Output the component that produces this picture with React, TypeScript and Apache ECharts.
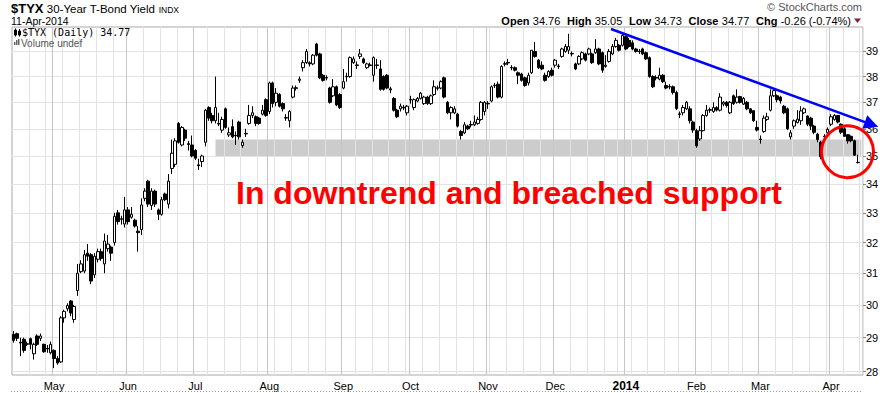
import React, { useEffect, useRef } from 'react';
import * as echarts from 'echarts';

const FONT = 'Arial, "Liberation Sans", Helvetica, sans-serif';

// ---- calendar ----
const FIRST_DAY = '2013-04-15';
const LAST_DAY = '2014-04-11';
const PAD_DAY = '2014-04-14';
const HOLIDAYS = ['2013-05-27', '2013-07-04', '2013-09-02', '2013-11-28', '2013-12-25', '2014-01-01', '2014-01-20', '2014-02-17'];
const MONTHS = ['Jan', 'Feb', 'Mar', 'Apr', 'May', 'Jun', 'Jul', 'Aug', 'Sep', 'Oct', 'Nov', 'Dec'];

// ---- y axis ----
const Y_TICKS = [28, 29, 30, 31, 32, 33, 34, 35, 36, 37, 38, 39];
const Y_MIN = 27.9;
const Y_MAX = 40;

// ---- support band ----
const SUPPORT_START = '2013-07-10';
const SUPPORT_LOW = 35.0;
const SUPPORT_HIGH = 35.6;

// ---- OHLC data: [open, close, low, high] ----
const apr2013 = [
  [29.10, 28.92, 28.85, 29.20], [29.12, 28.98, 28.90, 29.15], [28.86, 28.84, 28.45, 29.00], [28.95, 28.62, 28.55, 29.00],
  [28.80, 28.82, 28.75, 28.88], [28.97, 28.80, 28.65, 29.00], [28.52, 28.80, 28.35, 28.85], [29.05, 28.80, 28.75, 29.10],
  [28.98, 29.05, 28.90, 29.12], [28.80, 28.58, 28.55, 28.82], [28.68, 28.66, 28.55, 28.78], [28.55, 28.80, 28.50, 28.88],
];
const may2013 = [
  [28.62, 28.38, 28.10, 28.65], [28.38, 28.25, 28.20, 28.45], [28.28, 29.60, 28.25, 29.65], [29.60, 29.80, 29.45, 29.85],
  [29.88, 29.98, 29.80, 30.05], [30.12, 29.75, 29.65, 30.15], [29.55, 29.95, 29.45, 30.00], [30.45, 31.00, 30.28, 31.30],
  [31.05, 31.30, 31.00, 31.42], [31.07, 31.60, 31.00, 31.75], [31.65, 31.55, 31.40, 31.95], [31.60, 30.75, 30.65, 31.65],
  [30.95, 31.55, 30.85, 31.65], [31.45, 31.70, 31.35, 31.80], [31.70, 31.48, 31.40, 31.80], [31.30, 32.05, 31.00, 32.30],
  [31.80, 31.95, 31.70, 32.25], [31.85, 31.65, 31.40, 31.90], [32.00, 32.88, 31.90, 33.00], [33.00, 32.70, 32.60, 33.10],
  [32.80, 32.78, 32.60, 32.90], [32.62, 33.10, 32.50, 33.55],
];
const jun2013 = [
  [33.10, 32.70, 32.60, 33.20], [32.85, 32.95, 32.80, 33.20], [32.75, 32.55, 32.50, 32.80], [32.38, 32.33, 31.70, 32.55],
  [32.43, 33.27, 32.25, 33.50], [33.50, 33.75, 33.40, 33.85], [34.10, 33.30, 33.20, 34.15], [33.25, 33.75, 33.10, 33.85],
  [33.75, 33.30, 33.20, 33.80], [33.10, 32.95, 32.75, 33.15], [32.95, 33.45, 32.90, 33.55], [33.65, 33.45, 33.40, 33.70],
  [33.30, 34.10, 33.15, 34.35], [34.55, 35.10, 34.35, 35.60], [34.70, 35.55, 34.60, 35.65], [36.20, 35.50, 35.45, 36.25],
  [35.40, 36.05, 35.35, 36.10], [35.95, 35.65, 35.55, 36.00], [35.45, 35.42, 35.20, 35.55], [35.40, 35.00, 34.95, 35.75],
];
const jul2013 = [
  [35.20, 34.92, 34.85, 35.25], [34.68, 34.65, 34.50, 34.90], [34.80, 35.00, 34.60, 35.05], [35.50, 36.70, 35.35, 36.75],
  [36.80, 36.40, 36.30, 36.85], [36.50, 36.30, 36.20, 36.60], [36.30, 36.80, 36.20, 38.00], [36.20, 36.18, 36.10, 36.60],
  [35.95, 36.35, 35.85, 36.45], [36.75, 36.05, 36.00, 36.80], [35.77, 35.85, 35.70, 36.05], [36.08, 35.70, 35.65, 36.35],
  [35.76, 35.74, 35.40, 35.90], [36.25, 35.70, 35.60, 36.30], [35.38, 35.50, 35.30, 35.60], [35.83, 35.81, 35.70, 36.00],
  [36.20, 36.50, 36.15, 36.90], [36.50, 36.60, 36.40, 36.85], [36.45, 36.20, 36.10, 36.50], [36.40, 36.20, 36.15, 36.45],
  [36.55, 36.70, 36.50, 36.90], [37.10, 36.50, 36.45, 37.15],
];
const aug2013 = [
  [36.65, 37.75, 36.55, 37.80], [37.75, 36.95, 36.80, 37.80], [37.00, 37.35, 36.85, 37.55], [37.30, 36.85, 36.80, 37.35],
  [36.95, 36.75, 36.65, 37.00], [36.42, 36.40, 36.30, 36.55], [36.30, 36.65, 36.05, 36.70], [37.20, 37.55, 37.15, 37.65],
  [37.56, 37.54, 37.45, 37.65], [37.85, 37.90, 37.75, 38.00], [38.35, 38.55, 38.20, 38.65], [38.55, 39.00, 38.50, 39.10],
  [38.55, 38.50, 38.40, 38.60], [38.50, 38.85, 38.45, 38.90], [39.30, 38.85, 38.80, 39.35], [38.90, 37.95, 37.90, 38.95],
  [38.05, 37.85, 37.80, 38.10], [37.96, 37.94, 37.85, 38.05], [37.55, 37.00, 36.95, 37.60], [37.25, 37.60, 37.20, 37.90],
  [37.60, 36.90, 36.85, 37.65], [37.30, 36.80, 36.75, 37.35],
];
const sep2013 = [
  [37.55, 37.80, 37.50, 38.30], [38.01, 37.99, 37.80, 38.15], [38.00, 38.75, 37.95, 38.80], [38.55, 38.70, 38.50, 38.80],
  [38.46, 38.44, 38.30, 38.60], [38.80, 38.90, 38.70, 39.10], [38.70, 38.55, 38.50, 38.75], [38.35, 38.50, 38.30, 38.55],
  [38.46, 38.44, 38.40, 38.55], [38.05, 38.75, 37.80, 38.80], [38.46, 38.44, 38.30, 38.70], [38.30, 37.50, 37.45, 38.65],
  [38.00, 37.50, 37.45, 38.05], [38.05, 37.55, 37.50, 38.10], [37.52, 37.48, 37.35, 37.60], [37.15, 36.70, 36.65, 37.20],
  [36.70, 36.45, 36.40, 36.75], [36.75, 36.85, 36.65, 36.95], [36.81, 36.79, 36.70, 36.90], [36.60, 36.85, 36.50, 36.90],
];
const oct2013 = [
  [37.11, 37.09, 36.95, 37.25], [36.80, 37.10, 36.70, 37.15], [37.05, 37.15, 37.00, 37.20], [37.15, 37.35, 37.10, 37.40],
  [36.95, 37.20, 36.90, 37.25], [37.20, 36.95, 36.90, 37.25], [36.95, 37.25, 36.90, 37.30], [37.30, 37.60, 37.25, 37.85],
  [37.56, 37.54, 37.45, 37.65], [37.55, 37.80, 37.50, 37.85], [37.95, 37.20, 37.15, 38.00], [37.00, 36.60, 36.55, 37.05],
  [36.60, 36.80, 36.35, 36.85], [36.60, 36.75, 36.55, 36.85], [36.55, 36.10, 36.05, 36.60], [35.90, 35.75, 35.60, 35.95],
  [35.85, 36.15, 35.80, 36.25], [36.10, 36.00, 35.95, 36.15], [36.16, 36.14, 36.05, 36.30], [36.15, 36.25, 36.10, 36.50],
  [36.20, 36.35, 36.15, 36.45], [36.35, 37.00, 36.30, 37.05], [36.65, 37.00, 36.50, 37.05],
];
const nov2013 = [
  [36.96, 36.94, 36.75, 37.05], [37.05, 37.60, 37.00, 37.65], [37.66, 37.64, 37.55, 37.75], [37.70, 37.20, 37.15, 37.80],
  [37.20, 38.40, 37.15, 38.45], [38.51, 38.49, 38.40, 38.60], [38.56, 38.54, 38.45, 38.70], [38.36, 38.34, 38.25, 38.45],
  [38.35, 38.25, 38.20, 38.40], [38.15, 38.05, 37.70, 38.20], [38.10, 37.85, 37.80, 38.15], [37.95, 37.65, 37.60, 38.00],
  [37.75, 38.05, 37.65, 38.15], [38.15, 39.05, 38.10, 39.05], [39.00, 38.80, 38.75, 39.38], [38.65, 38.35, 38.30, 38.70],
  [38.45, 38.30, 38.25, 38.60], [38.05, 37.85, 37.80, 38.15], [38.00, 38.20, 37.95, 38.25], [38.25, 38.05, 38.00, 38.35],
];
const dec2013 = [
  [38.45, 38.65, 38.35, 38.70], [38.42, 38.40, 38.30, 38.50], [38.80, 39.10, 38.75, 39.15], [39.00, 39.20, 38.95, 39.30],
  [39.05, 39.20, 38.90, 39.72], [38.92, 38.90, 38.80, 39.00], [38.50, 38.30, 38.25, 38.55], [38.50, 38.80, 38.45, 38.85],
  [38.70, 38.95, 38.65, 39.00], [38.90, 38.65, 38.60, 38.95], [38.90, 39.10, 38.85, 39.15], [38.90, 38.55, 38.50, 38.95],
  [38.95, 39.10, 38.90, 39.50], [39.10, 38.50, 38.45, 39.15], [38.95, 38.25, 38.15, 39.00], [38.40, 38.45, 38.35, 38.85],
  [38.60, 39.00, 38.55, 39.10], [38.90, 39.20, 38.85, 39.30], [39.20, 39.45, 39.15, 39.55], [39.25, 39.05, 39.00, 39.30],
  [39.25, 39.65, 39.20, 39.75],
];
const jan2014 = [
  [39.60, 39.10, 39.05, 39.65], [39.45, 39.20, 39.15, 39.55], [39.35, 39.10, 39.05, 39.45], [39.10, 39.00, 38.95, 39.15],
  [39.01, 38.99, 38.90, 39.10], [39.10, 38.90, 38.85, 39.15], [38.95, 38.70, 38.65, 39.00], [38.75, 38.00, 37.95, 38.80],
  [38.00, 37.60, 37.55, 38.05], [37.96, 37.94, 37.85, 38.05], [37.90, 38.05, 37.85, 38.35], [38.05, 37.80, 37.75, 38.10],
  [37.65, 37.55, 37.50, 37.80], [37.61, 37.59, 37.50, 37.70], [37.60, 37.38, 37.30, 37.65], [37.38, 36.76, 36.70, 37.45],
  [36.56, 36.54, 36.40, 36.65], [36.60, 36.80, 36.50, 36.90], [36.75, 37.00, 36.70, 37.05], [36.75, 36.30, 36.20, 36.85],
  [36.25, 35.95, 35.85, 36.30],
];
const feb2014 = [
  [35.93, 35.37, 35.30, 36.00], [35.62, 35.93, 35.55, 36.10], [35.93, 36.50, 35.90, 36.55], [36.50, 36.70, 36.45, 36.90],
  [36.72, 36.70, 36.60, 36.80], [36.65, 36.80, 36.60, 37.00], [36.80, 36.70, 36.65, 36.85], [36.70, 37.20, 36.65, 37.35],
  [36.93, 37.00, 36.85, 37.05], [37.00, 36.88, 36.80, 37.05], [36.60, 37.00, 36.55, 37.05], [37.25, 36.95, 36.90, 37.30],
  [37.00, 37.20, 36.95, 37.50], [37.22, 37.00, 36.95, 37.25], [36.93, 37.15, 36.90, 37.20], [37.00, 36.75, 36.70, 37.05],
  [36.75, 36.60, 36.55, 36.78], [36.68, 36.30, 36.25, 36.70], [36.05, 35.95, 35.90, 36.30],
];
const mar2014 = [
  [35.62, 35.60, 35.45, 35.75], [35.90, 36.40, 35.85, 36.50], [36.35, 36.45, 36.30, 36.60], [36.70, 37.25, 36.65, 37.50],
  [37.25, 37.45, 37.20, 37.50], [37.25, 37.10, 37.00, 37.30], [37.20, 37.05, 36.95, 37.25], [36.85, 36.60, 36.55, 36.90],
  [36.75, 36.00, 35.95, 36.80], [35.70, 35.85, 35.60, 35.95], [36.10, 36.30, 36.00, 36.35], [36.23, 36.36, 36.20, 36.70],
  [36.30, 36.67, 36.15, 36.85], [36.60, 36.75, 36.55, 36.80], [36.48, 36.17, 36.10, 36.50], [36.40, 36.10, 35.95, 36.45],
  [36.10, 35.87, 35.80, 36.15], [35.80, 35.60, 35.50, 35.85], [35.50, 34.98, 34.88, 35.55], [35.72, 35.70, 35.60, 35.80],
  [35.85, 35.98, 35.80, 36.05],
];
const apr2014 = [
  [36.17, 36.45, 36.10, 36.55], [36.35, 36.50, 36.30, 36.55], [36.50, 36.25, 36.20, 36.52], [36.17, 35.87, 35.80, 36.20],
  [36.00, 35.72, 35.70, 36.05], [35.78, 35.55, 35.45, 35.80], [35.72, 35.56, 35.50, 35.75], [35.56, 35.03, 35.00, 35.60],
  [34.76, 34.77, 34.73, 35.05],
];

// ---- header texts ----
const SYMBOL = '$TYX';
const TITLE = '30-Year T-Bond Yield';
const EXCHANGE = 'INDX';
const DATE_TEXT = '11-Apr-2014';
const LEGEND_TEXT = '$TYX (Daily) 34.77';
const VOLUME_TEXT = 'Volume undef';
const COPYRIGHT = '\u00A9 StockCharts.com';
const QUOTE = [
  ['Open', '34.76'], ['High', '35.05'], ['Low', '34.73'], ['Close', '34.77'], ['Chg', '-0.26 (-0.74%)'],
];
const ANNOTATION = 'In downtrend and breached support';

function buildTradingDays(): string[] {
  const out: string[] = [];
  const [y0, m0, d0] = FIRST_DAY.split('-').map(Number);
  const [y1, m1, d1] = LAST_DAY.split('-').map(Number);
  let t = Date.UTC(y0, m0 - 1, d0);
  const end = Date.UTC(y1, m1 - 1, d1);
  while (t <= end) {
    const d = new Date(t);
    const wd = d.getUTCDay();
    const s = d.toISOString().slice(0, 10);
    if (wd !== 0 && wd !== 6 && HOLIDAYS.indexOf(s) < 0) out.push(s);
    t += 86400000;
  }
  return out;
}

function dayOfWeek(s: string) {
  const [y, m, d] = s.split('-').map(Number);
  return new Date(Date.UTC(y, m - 1, d)).getUTCDay();
}

export default function App() {
  const ref = useRef<HTMLDivElement>(null);
  useEffect(() => {
    document.body.style.margin = '0';
    const dates = buildTradingDays();
    const categories = [...dates, PAD_DAY];
    const ohlc = [
      ...apr2013, ...may2013, ...jun2013, ...jul2013, ...aug2013, ...sep2013,
      ...oct2013, ...nov2013, ...dec2013, ...jan2014, ...feb2014, ...mar2014, ...apr2014,
    ];
    const monthStart = categories.map((d, i) => i > 0 && i < dates.length && d.slice(5, 7) !== categories[i - 1].slice(5, 7));
    const weekStart = categories.map((d, i) => i > 0 && !monthStart[i] && dayOfWeek(d) < dayOfWeek(categories[i - 1]));

    const quoteText = QUOTE.map(([k, v]) => `{b|${k}} {n|${v}}`).join('  ');

    const chart = echarts.init(ref.current!, null, { renderer: 'svg' });
    chart.setOption({
      animation: false,
      textStyle: { fontFamily: FONT },
      grid: { left: 12, right: 30, top: 27, bottom: 18, show: true, borderColor: '#a9a9a9', borderWidth: 1, containLabel: false },
      xAxis: [
        {
          type: 'category', data: categories, boundaryGap: true, z: 1.5,
          axisLine: { show: false }, axisTick: { show: false },
          axisLabel: {
            interval: (i: number) => monthStart[i],
            formatter: (v: string) => {
              const m = Number(v.slice(5, 7));
              return m === 1 ? `{b|${v.slice(0, 4)}}` : MONTHS[m - 1];
            },
            color: '#000', fontSize: 11, margin: 5, fontFamily: FONT,
            rich: { b: { fontWeight: 'bold', fontSize: 12, color: '#000', fontFamily: FONT } },
          },
          splitLine: { show: true, interval: (i: number) => monthStart[i], lineStyle: { color: '#c6c6c6', width: 1 } },
        },
        {
          type: 'category', data: categories, boundaryGap: true, position: 'bottom', z: 1.5,
          axisLine: { show: false }, axisTick: { show: false }, axisLabel: { show: false },
          splitLine: { show: true, interval: (i: number) => weekStart[i], lineStyle: { color: '#e3e3e3', width: 1 } },
        },
      ],
      yAxis: {
        type: 'log', logBase: 10, min: Y_MIN, max: Y_MAX, position: 'right', z: 1.5,
        axisLine: { show: false },
        axisTick: { show: true, length: 3, customValues: Y_TICKS, lineStyle: { color: '#888' } },
        axisLabel: { customValues: Y_TICKS, color: '#000', fontSize: 11, margin: 3, fontFamily: FONT, formatter: (v: number) => String(Math.round(v)) },
        splitLine: { show: true, lineStyle: { color: '#e3e3e3', width: 1 } },
      },
      series: [
        {
          type: 'candlestick', data: ohlc, barWidth: 3, z: 2,
          itemStyle: { color: '#ffffff', color0: '#000000', borderColor: '#000000', borderColor0: '#000000', borderWidth: 1 },
          markArea: {
            silent: true, z: 1,
            itemStyle: { color: '#cccccc', opacity: 1 },
            data: [[{ xAxis: SUPPORT_START, yAxis: SUPPORT_LOW }, { xAxis: PAD_DAY, yAxis: SUPPORT_HIGH }]],
          },
        },
      ],
      graphic: [
        {
          type: 'text', x: 11, y: 8, z: 100,
          style: {
            text: `{t|${SYMBOL}} {n|${TITLE}} {s|${EXCHANGE}}`, verticalAlign: 'middle',
            rich: {
              t: { fontSize: 13, fontWeight: 'bold', fontFamily: FONT, fill: '#000', verticalAlign: 'bottom' },
              n: { fontSize: 11.5, fontFamily: FONT, fill: '#000', verticalAlign: 'bottom' },
              s: { fontSize: 8.5, fontFamily: FONT, fill: '#000', verticalAlign: 'bottom' },
            },
          },
        },
        { type: 'text', x: 11, y: 21, z: 100, style: { text: DATE_TEXT, fontSize: 10.5, fontFamily: FONT, fill: '#000', verticalAlign: 'middle' } },
        { type: 'text', x: 862, y: 7, z: 100, style: { text: COPYRIGHT, fontSize: 11, fontFamily: FONT, fill: '#555', align: 'right', verticalAlign: 'middle' } },
        {
          type: 'text', x: 851, y: 20.5, z: 100,
          style: {
            text: quoteText, align: 'right', verticalAlign: 'middle',
            rich: {
              b: { fontSize: 11, fontWeight: 'bold', fontFamily: FONT, fill: '#000' },
              n: { fontSize: 11, fontFamily: FONT, fill: '#000' },
            },
          },
        },
        { type: 'polygon', z: 100, shape: { points: [[854, 18.5], [861, 18.5], [857.5, 23]] }, style: { fill: '#8b1c3c' } },
        // legend icons
        { type: 'rect', z: 100, shape: { x: 14.5, y: 30, width: 2, height: 5 }, style: { fill: '#000', stroke: '#000', lineWidth: 1 } },
        { type: 'rect', z: 100, shape: { x: 18.5, y: 31, width: 2, height: 4 }, style: { fill: '#fff', stroke: '#000', lineWidth: 1 } },
        { type: 'line', z: 100, shape: { x1: 15.5, y1: 28.5, x2: 15.5, y2: 36.5 }, style: { stroke: '#000', lineWidth: 1 } },
        { type: 'line', z: 100, shape: { x1: 19.5, y1: 29, x2: 19.5, y2: 36.5 }, style: { stroke: '#000', lineWidth: 1 } },
        { type: 'text', x: 22, y: 32.5, z: 100, style: { text: LEGEND_TEXT, fontSize: 10, fontFamily: '"DejaVu Sans Mono", monospace', fill: '#000', verticalAlign: 'middle' } },
        { type: 'rect', z: 100, shape: { x: 14, y: 42, width: 1.5, height: 3 }, style: { fill: '#666' } },
        { type: 'rect', z: 100, shape: { x: 16, y: 40, width: 1.5, height: 5 }, style: { fill: '#666' } },
        { type: 'rect', z: 100, shape: { x: 18, y: 39, width: 1.5, height: 6 }, style: { fill: '#666' } },
        { type: 'text', x: 21, y: 43.5, z: 100, style: { text: VOLUME_TEXT, fontSize: 10, fontFamily: FONT, fill: '#555', verticalAlign: 'middle' } },
        // bottom dotted line
        { type: 'line', z: 100, shape: { x1: 11, y1: 391.5, x2: 863, y2: 391.5 }, style: { stroke: '#999', lineWidth: 1, lineDash: [1, 2] } },
        // trend line with arrow
        { type: 'line', z: 100, shape: { x1: 611, y1: 29, x2: 865, y2: 122.2 }, style: { stroke: '#0000ff', lineWidth: 2.5 } },
        { type: 'polygon', z: 100, shape: { points: [[878, 126.8], [862.3, 128.8], [867.3, 115.2]] }, style: { fill: '#0000ff' } },
        // red circle
        { type: 'circle', z: 100, shape: { cx: 847.5, cy: 151.7, r: 26 }, style: { fill: 'none', stroke: '#ff0000', lineWidth: 3 } },
        // annotation text
        { type: 'text', x: 236, y: 193, z: 100, style: { text: ANNOTATION, fontSize: 32, fontWeight: 'bold', fontFamily: FONT, fill: '#ff0000', verticalAlign: 'middle' } },
      ],
    });
    return () => chart.dispose();
  }, []);
  return <div ref={ref} style={{ width: 893, height: 393 }} />;
}
